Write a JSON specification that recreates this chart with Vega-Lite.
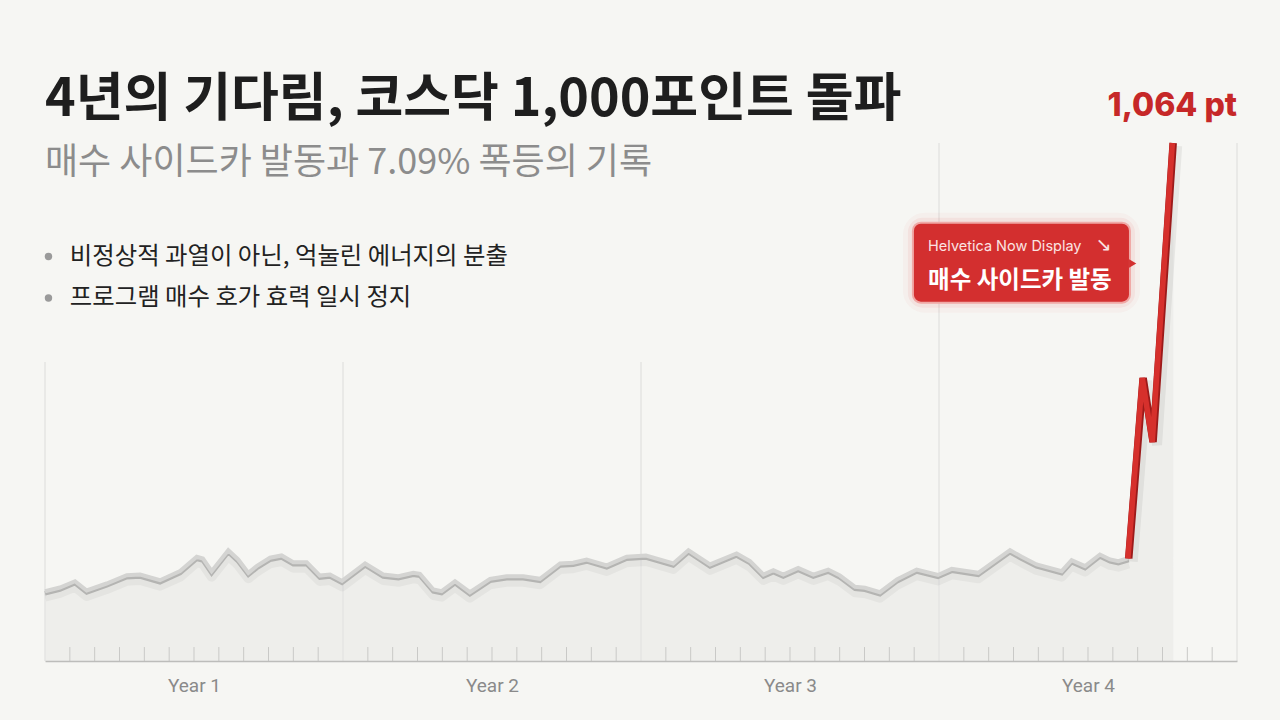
{
  "$schema": "https://vega.github.io/schema/vega-lite/v6.json",
  "width": 1192,
  "height": 518,
  "autosize": {"type": "none"},
  "padding": {"left": 45, "top": 143, "right": 43, "bottom": 59},
  "background": "#f6f6f3",
  "config": {"view": {"stroke": null}},
  "title": {
    "text": "4년의 기다림, 코스닥 1,000포인트 돌파",
    "subtitle": "매수 사이드카 발동과 7.09% 폭등의 기록",
    "anchor": "start",
    "frame": "group",
    "orient": "top",
    "font": "Noto Sans CJK KR",
    "fontSize": 52,
    "fontWeight": 700,
    "color": "#1e1e1e",
    "subtitleFont": "Noto Sans CJK KR",
    "subtitleFontSize": 36,
    "subtitleFontWeight": 400,
    "subtitleColor": "#8c8c8c",
    "subtitlePadding": 19,
    "offset": -92
  },
  "datasets": {
    "series": [
      {"m": 0.0, "v": 748.7, "s": "g"},
      {"m": 0.6, "v": 751.3, "s": "g"},
      {"m": 1.21, "v": 755.7, "s": "g"},
      {"m": 1.68, "v": 749.2, "s": "g"},
      {"m": 2.48, "v": 754.1, "s": "g"},
      {"m": 3.29, "v": 759.9, "s": "g"},
      {"m": 3.83, "v": 760.4, "s": "g"},
      {"m": 4.63, "v": 756.4, "s": "g"},
      {"m": 5.44, "v": 762.8, "s": "g"},
      {"m": 6.11, "v": 772.9, "s": "g"},
      {"m": 6.36, "v": 771.7, "s": "g"},
      {"m": 6.71, "v": 762.8, "s": "g"},
      {"m": 7.38, "v": 777.5, "s": "g"},
      {"m": 7.78, "v": 771.0, "s": "g"},
      {"m": 8.19, "v": 761.6, "s": "g"},
      {"m": 8.52, "v": 766.3, "s": "g"},
      {"m": 9.06, "v": 772.2, "s": "g"},
      {"m": 9.53, "v": 773.8, "s": "g"},
      {"m": 10.0, "v": 769.1, "s": "g"},
      {"m": 10.54, "v": 769.1, "s": "g"},
      {"m": 11.07, "v": 759.7, "s": "g"},
      {"m": 11.48, "v": 760.4, "s": "g"},
      {"m": 11.96, "v": 755.9, "s": "g"},
      {"m": 12.89, "v": 768.2, "s": "g"},
      {"m": 13.62, "v": 760.4, "s": "g"},
      {"m": 14.23, "v": 759.2, "s": "g"},
      {"m": 14.83, "v": 761.6, "s": "g"},
      {"m": 15.1, "v": 760.9, "s": "g"},
      {"m": 15.64, "v": 749.9, "s": "g"},
      {"m": 15.97, "v": 748.7, "s": "g"},
      {"m": 16.51, "v": 755.7, "s": "g"},
      {"m": 17.11, "v": 748.0, "s": "g"},
      {"m": 17.92, "v": 757.4, "s": "g"},
      {"m": 18.59, "v": 759.2, "s": "g"},
      {"m": 19.26, "v": 759.2, "s": "g"},
      {"m": 19.93, "v": 757.4, "s": "g"},
      {"m": 20.74, "v": 768.2, "s": "g"},
      {"m": 21.27, "v": 768.7, "s": "g"},
      {"m": 21.81, "v": 771.0, "s": "g"},
      {"m": 22.62, "v": 766.8, "s": "g"},
      {"m": 23.42, "v": 772.9, "s": "g"},
      {"m": 24.2, "v": 773.8, "s": "g"},
      {"m": 25.3, "v": 768.2, "s": "g"},
      {"m": 25.91, "v": 777.5, "s": "g"},
      {"m": 26.78, "v": 767.5, "s": "g"},
      {"m": 27.85, "v": 775.2, "s": "g"},
      {"m": 28.39, "v": 769.8, "s": "g"},
      {"m": 28.93, "v": 760.4, "s": "g"},
      {"m": 29.33, "v": 763.5, "s": "g"},
      {"m": 29.73, "v": 760.4, "s": "g"},
      {"m": 30.33, "v": 765.1, "s": "g"},
      {"m": 30.94, "v": 760.4, "s": "g"},
      {"m": 31.54, "v": 763.9, "s": "g"},
      {"m": 32.01, "v": 759.7, "s": "g"},
      {"m": 32.62, "v": 751.8, "s": "g"},
      {"m": 33.02, "v": 751.1, "s": "g"},
      {"m": 33.62, "v": 748.0, "s": "g"},
      {"m": 34.3, "v": 756.9, "s": "g"},
      {"m": 35.1, "v": 763.9, "s": "g"},
      {"m": 35.96, "v": 760.1, "s": "g"},
      {"m": 36.51, "v": 764.4, "s": "g"},
      {"m": 37.58, "v": 761.6, "s": "g"},
      {"m": 38.86, "v": 777.5, "s": "g"},
      {"m": 39.33, "v": 772.9, "s": "g"},
      {"m": 39.93, "v": 767.5, "s": "g"},
      {"m": 40.94, "v": 762.8, "s": "g"},
      {"m": 41.34, "v": 770.5, "s": "g"},
      {"m": 41.88, "v": 766.3, "s": "g"},
      {"m": 42.48, "v": 774.5, "s": "g"},
      {"m": 42.89, "v": 771.0, "s": "g"},
      {"m": 43.22, "v": 769.8, "s": "g"},
      {"m": 43.64, "v": 772.0, "s": "g"},
      {"m": 43.64, "v": 772.0, "s": "r"},
      {"m": 44.22, "v": 898.9, "s": "r"},
      {"m": 44.62, "v": 853.9, "s": "r"},
      {"m": 45.43, "v": 1064.0, "s": "r"}
    ],
    "grid": [
      {"m": 0, "bot": 700, "top": 910.1},
      {"m": 12, "bot": 700, "top": 910.1},
      {"m": 24, "bot": 700, "top": 910.1},
      {"m": 36, "bot": 700, "top": 1064},
      {"m": 48, "bot": 700, "top": 1064}
    ],
    "ticks": [
      {"m": 1, "bot": 700, "top": 709.8}, {"m": 2, "bot": 700, "top": 709.8}, {"m": 3, "bot": 700, "top": 709.8},
      {"m": 4, "bot": 700, "top": 709.8}, {"m": 5, "bot": 700, "top": 709.8}, {"m": 6, "bot": 700, "top": 709.8},
      {"m": 7, "bot": 700, "top": 709.8}, {"m": 8, "bot": 700, "top": 709.8}, {"m": 9, "bot": 700, "top": 709.8},
      {"m": 10, "bot": 700, "top": 709.8}, {"m": 11, "bot": 700, "top": 709.8},
      {"m": 13, "bot": 700, "top": 709.8}, {"m": 14, "bot": 700, "top": 709.8}, {"m": 15, "bot": 700, "top": 709.8},
      {"m": 16, "bot": 700, "top": 709.8}, {"m": 17, "bot": 700, "top": 709.8}, {"m": 18, "bot": 700, "top": 709.8},
      {"m": 19, "bot": 700, "top": 709.8}, {"m": 20, "bot": 700, "top": 709.8}, {"m": 21, "bot": 700, "top": 709.8},
      {"m": 22, "bot": 700, "top": 709.8}, {"m": 23, "bot": 700, "top": 709.8},
      {"m": 25, "bot": 700, "top": 709.8}, {"m": 26, "bot": 700, "top": 709.8}, {"m": 27, "bot": 700, "top": 709.8},
      {"m": 28, "bot": 700, "top": 709.8}, {"m": 29, "bot": 700, "top": 709.8}, {"m": 30, "bot": 700, "top": 709.8},
      {"m": 31, "bot": 700, "top": 709.8}, {"m": 32, "bot": 700, "top": 709.8}, {"m": 33, "bot": 700, "top": 709.8},
      {"m": 34, "bot": 700, "top": 709.8}, {"m": 35, "bot": 700, "top": 709.8},
      {"m": 37, "bot": 700, "top": 709.8}, {"m": 38, "bot": 700, "top": 709.8}, {"m": 39, "bot": 700, "top": 709.8},
      {"m": 40, "bot": 700, "top": 709.8}, {"m": 41, "bot": 700, "top": 709.8}, {"m": 42, "bot": 700, "top": 709.8},
      {"m": 43, "bot": 700, "top": 709.8}, {"m": 44, "bot": 700, "top": 709.8}, {"m": 45, "bot": 700, "top": 709.8},
      {"m": 46, "bot": 700, "top": 709.8}, {"m": 47, "bot": 700, "top": 709.8}
    ],
    "bullets": [
      {"dm": 0.14, "m": 1.0, "v": 984.2, "t": "비정상적 과열이 아닌, 억눌린 에너지의 분출"},
      {"dm": 0.14, "m": 1.0, "v": 955.1, "t": "프로그램 매수 호가 효력 일시 정지"}
    ],
    "callout": [
      {"m1": 34.95, "m2": 43.69, "v1": 951.8, "v2": 1008.0, "am": 43.8, "av": 979.3,
       "tm": 35.56, "arm": 42.3, "sv": 988.3, "mv": 962.1,
       "small": "Helvetica Now Display", "arrow": "↘", "main": "매수 사이드카 발동"}
    ],
    "peak": [
      {"m": 48, "v": 1083, "t": "1,064 pt"}
    ]
  },
  "layer": [
    {
      "data": {"name": "grid"},
      "mark": {"type": "rule", "color": "#dcdcda", "strokeWidth": 1},
      "encoding": {
        "x": {"field": "m", "type": "quantitative",
              "scale": {"domain": [0, 48], "nice": false, "zero": false},
              "axis": {
                "values": [6, 18, 30, 42],
                "title": null,
                "grid": false,
                "ticks": false,
                "zindex": 1,
                "domainColor": "#bdbdbb",
                "domainWidth": 1.5,
                "labelPadding": 15,
                "labelFont": "Roboto",
                "labelFontSize": 19,
                "labelColor": "#8a8a8a",
                "labelOverlap": false,
                "labelExpr": "'Year ' + (floor(datum.value / 12) + 1)"
              }},
        "y": {"field": "bot", "type": "quantitative",
              "scale": {"domain": [700, 1064], "nice": false, "zero": false},
              "axis": null},
        "y2": {"field": "top"}
      }
    },
    {
      "data": {"name": "series"},
      "transform": [{"filter": "datum.s == 'g' || datum.m > 43.7"}],
      "mark": {"type": "area", "color": "#e6e6e4", "opacity": 0.5, "clip": true},
      "encoding": {
        "x": {"field": "m", "type": "quantitative"},
        "y": {"field": "v", "type": "quantitative"}
      }
    },
    {
      "data": {"name": "ticks"},
      "mark": {"type": "rule", "color": "#c9c9c7", "strokeWidth": 1},
      "encoding": {
        "x": {"field": "m", "type": "quantitative"},
        "y": {"field": "bot", "type": "quantitative"},
        "y2": {"field": "top"}
      }
    },
    {
      "data": {"name": "series"},
      "transform": [{"filter": "datum.s == 'g'"}],
      "mark": {"type": "line", "color": "#000000", "opacity": 0.04, "strokeWidth": 10, "yOffset": 5, "strokeJoin": "round"},
      "encoding": {
        "x": {"field": "m", "type": "quantitative"},
        "y": {"field": "v", "type": "quantitative"}
      }
    },
    {
      "data": {"name": "series"},
      "transform": [{"filter": "datum.s == 'g'"}],
      "mark": {"type": "line", "color": "#b4b4b2", "strokeWidth": 4.5, "yOffset": 1.5, "strokeJoin": "miter"},
      "encoding": {
        "x": {"field": "m", "type": "quantitative"},
        "y": {"field": "v", "type": "quantitative"}
      }
    },
    {
      "data": {"name": "series"},
      "transform": [{"filter": "datum.s == 'g'"}],
      "mark": {"type": "line", "color": "#d4d4d2", "strokeWidth": 4, "yOffset": -0.5, "strokeJoin": "miter"},
      "encoding": {
        "x": {"field": "m", "type": "quantitative"},
        "y": {"field": "v", "type": "quantitative"}
      }
    },
    {
      "data": {"name": "series"},
      "transform": [{"filter": "datum.s == 'r'"}],
      "mark": {"type": "line", "color": "#000000", "opacity": 0.06, "strokeWidth": 10, "xOffset": 4, "yOffset": 3, "strokeJoin": "miter"},
      "encoding": {
        "x": {"field": "m", "type": "quantitative"},
        "y": {"field": "v", "type": "quantitative"}
      }
    },
    {
      "data": {"name": "series"},
      "transform": [{"filter": "datum.s == 'r'"}],
      "mark": {"type": "line", "color": "#9c1a1a", "strokeWidth": 7.5, "strokeJoin": "miter", "strokeCap": "butt"},
      "encoding": {
        "x": {"field": "m", "type": "quantitative"},
        "y": {"field": "v", "type": "quantitative"}
      }
    },
    {
      "data": {"name": "series"},
      "transform": [{"filter": "datum.s == 'r'"}],
      "mark": {"type": "line", "color": "#d6302c", "strokeWidth": 5.5, "xOffset": -0.8, "strokeJoin": "miter", "strokeCap": "butt"},
      "encoding": {
        "x": {"field": "m", "type": "quantitative"},
        "y": {"field": "v", "type": "quantitative"}
      }
    },
    {
      "data": {"name": "bullets"},
      "mark": {"type": "point", "filled": true, "color": "#9a9a9a", "size": 55, "opacity": 1},
      "encoding": {
        "x": {"field": "dm", "type": "quantitative"},
        "y": {"field": "v", "type": "quantitative"}
      }
    },
    {
      "data": {"name": "bullets"},
      "mark": {"type": "text", "align": "left", "baseline": "middle", "font": "Noto Sans CJK KR", "fontSize": 24.4, "fontWeight": 400, "color": "#222222"},
      "encoding": {
        "x": {"field": "m", "type": "quantitative"},
        "y": {"field": "v", "type": "quantitative"},
        "text": {"field": "t"}
      }
    },
    {
      "data": {"name": "callout"},
      "mark": {"type": "rect", "fill": "#d32f2f", "stroke": "#e53935", "strokeWidth": 20, "strokeOpacity": 0.035, "cornerRadius": 12},
      "encoding": {
        "x": {"field": "m1", "type": "quantitative"},
        "x2": {"field": "m2"},
        "y": {"field": "v1", "type": "quantitative"},
        "y2": {"field": "v2"}
      }
    },
    {
      "data": {"name": "callout"},
      "mark": {"type": "rect", "fill": "#d32f2f", "stroke": "#e53935", "strokeWidth": 10, "strokeOpacity": 0.07, "cornerRadius": 10},
      "encoding": {
        "x": {"field": "m1", "type": "quantitative"},
        "x2": {"field": "m2"},
        "y": {"field": "v1", "type": "quantitative"},
        "y2": {"field": "v2"}
      }
    },
    {
      "data": {"name": "callout"},
      "mark": {"type": "rect", "fill": "#d32f2f", "stroke": "#f0a9a6", "strokeWidth": 2, "cornerRadius": 8},
      "encoding": {
        "x": {"field": "m1", "type": "quantitative"},
        "x2": {"field": "m2"},
        "y": {"field": "v1", "type": "quantitative"},
        "y2": {"field": "v2"}
      }
    },
    {
      "data": {"name": "callout"},
      "mark": {"type": "point", "shape": "triangle-right", "filled": true, "color": "#d32f2f", "size": 70, "opacity": 1},
      "encoding": {
        "x": {"field": "am", "type": "quantitative"},
        "y": {"field": "av", "type": "quantitative"}
      }
    },
    {
      "data": {"name": "callout"},
      "mark": {"type": "text", "align": "left", "baseline": "alphabetic", "font": "Inter", "fontSize": 14.5, "color": "#fbe3e2"},
      "encoding": {
        "x": {"field": "tm", "type": "quantitative"},
        "y": {"field": "sv", "type": "quantitative"},
        "text": {"field": "small"}
      }
    },
    {
      "data": {"name": "callout"},
      "mark": {"type": "text", "align": "left", "baseline": "alphabetic", "font": "DejaVu Sans", "fontSize": 19, "color": "#fbe3e2"},
      "encoding": {
        "x": {"field": "arm", "type": "quantitative"},
        "y": {"field": "sv", "type": "quantitative"},
        "text": {"field": "arrow"}
      }
    },
    {
      "data": {"name": "callout"},
      "mark": {"type": "text", "align": "left", "baseline": "alphabetic", "font": "Noto Sans CJK KR", "fontSize": 23.5, "fontWeight": 700, "color": "#ffffff"},
      "encoding": {
        "x": {"field": "tm", "type": "quantitative"},
        "y": {"field": "mv", "type": "quantitative"},
        "text": {"field": "main"}
      }
    },
    {
      "data": {"name": "peak"},
      "mark": {"type": "text", "align": "right", "baseline": "alphabetic", "font": "Inter", "fontSize": 32, "fontWeight": 800, "color": "#c62828"},
      "encoding": {
        "x": {"field": "m", "type": "quantitative"},
        "y": {"field": "v", "type": "quantitative"},
        "text": {"field": "t"}
      }
    }
  ]
}
